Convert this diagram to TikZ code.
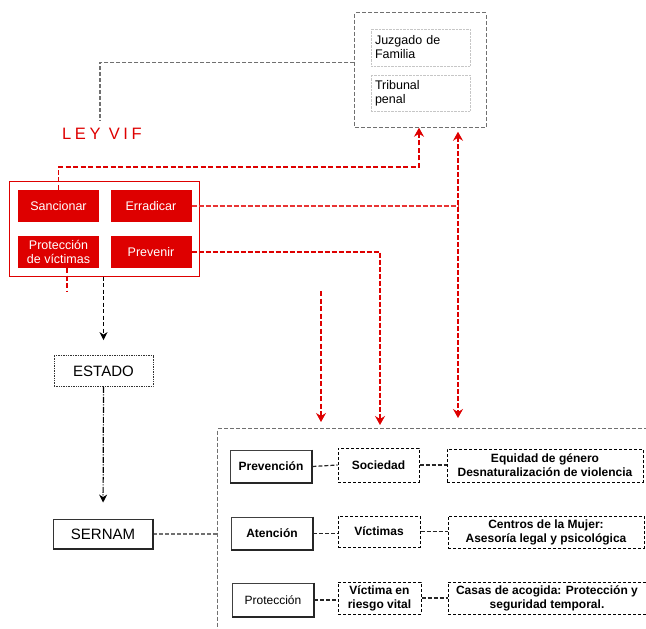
\documentclass[tikz,border=0pt]{standalone}
\usepackage{fontspec}
\setmainfont{Liberation Sans}
\setsansfont{Liberation Sans}
\newfontfamily\leyfont[LetterSpace=22]{Liberation Sans}
\usetikzlibrary{positioning,calc,fit,arrows.meta}
\definecolor{rojo}{RGB}{222,0,0}
\definecolor{rojolinea}{RGB}{232,52,52}
\definecolor{grislinea}{RGB}{112,112,112}

\begin{document}
\begin{tikzpicture}[x=1pt, y=-1pt,
	redbox/.style={fill=rojo, text=white, minimum width=81pt, minimum height=32pt, inner sep=1pt, align=center, font=\fontsize{12.5}{14}\selectfont},
	corte/.style={draw=gray!45, densely dotted, minimum width=99pt, minimum height=37pt, text width=91pt, inner sep=4pt, align=left, font=\fontsize{12.5}{14}\selectfont},
	organo/.style={fill=white, minimum width=99pt, minimum height=31pt, font=\fontsize{15}{17}\selectfont},
	sombra/.style={draw=black!85, line width=2pt},
	tipo/.style={draw=black!75, fill=white, line width=0.8pt, minimum width=82pt, minimum height=33pt, font=\fontsize{12}{14}\selectfont\bfseries},
	detalle/.style={draw, densely dashed, line width=1pt, minimum height=32pt, inner sep=1pt, align=center, font=\fontsize{12}{14}\selectfont\bfseries},
	enlace/.style={draw=black!85, line width=1.2pt, dash pattern=on 4pt off 2pt},
	glinea/.style={draw=grislinea, line width=1.2pt, dash pattern=on 4pt off 2pt},
	rlinea/.style={draw=rojolinea, line width=1.9pt, dash pattern=on 5pt off 2pt},
	rfino/.style={draw=rojo, line width=1.1pt, dash pattern=on 5pt off 2.5pt},
	rarr/.style={-{Stealth[length=9pt, width=10pt, inset=3pt]}, rojo},
	narr/.style={-{Stealth[length=8pt, width=8pt, inset=2.5pt]}, black}
	]
	\clip (0,0) rectangle (646,629);
	
	% ==========================================
	% Tribunales
	% ==========================================
	\node[corte] (juz) at (420.5,47.5) {Juzgado de\\Familia};
	\node[corte, minimum height=36pt] (trib) at (420.5,93) {Tribunal\\penal};
	\node[draw=grislinea, line width=1.1pt, dash pattern=on 4pt off 2pt, fit=(juz)(trib), inner sep=16pt] (cortes) {};
	
	% ==========================================
	% Ley VIF
	% ==========================================
	\node[text=rojo, font=\leyfont\fontsize{16.5}{18}\selectfont] (ley) at (102,134) {LEY VIF};
	\node[redbox] (sanc) at (58.5,206) {Sancionar};
	\node[redbox] (errad) at (151,206) {Erradicar};
	\node[redbox] (protv) at (58.5,252) {Protección\\de víctimas};
	\node[redbox] (prev) at (151,252) {Prevenir};
	\node[draw=rojo, line width=0.8pt, fit=(sanc)(errad)(protv)(prev), inner sep=8pt] (leybox) {};
	
	\draw[glinea] ($(cortes.west)+(0,-7.5)$) -| ($(ley.north)+(-2,-4)$);
	
	% ==========================================
	% Estado y SERNAM
	% ==========================================
	\node[organo, draw=black!80, line width=0.8pt, dash pattern=on 1pt off 0.7pt] (estado) at (103.5,371) {ESTADO};
	\node[organo, draw=black!80, line width=0.8pt, minimum width=100pt, minimum height=30pt] (sernam) at (103,534) {SERNAM};
	
	\draw[narr, line width=1.2pt, dash pattern=on 4pt off 2.5pt, shorten >=15pt] (estado.north |- leybox.south) -- (estado.north);
	\draw[narr, line width=1.2pt, dash pattern=on 6pt off 1.5pt on 1pt off 1.5pt, shorten >=16pt] (estado.south) -- (sernam.north);
	
	% ==========================================
	% Areas de accion
	% ==========================================
	\node[draw=grislinea, line width=1.1pt, dash pattern=on 4pt off 2pt, anchor=north west, minimum width=460pt, minimum height=230pt] (area) at (217,428) {};
	\draw[glinea] (sernam.east) -- (area.west |- sernam.east);
	
	% -- Prevencion --
	\node[tipo] (prevn) at (271,466.5) {Prevención};
	\node[detalle, minimum width=81pt, minimum height=34pt] (soc) at (378.5,465) {Sociedad};
	\node[detalle, minimum width=196pt, minimum height=33pt] (equ) at (545,465.5) {Equidad de género\\Desnaturalización de violencia};
	\draw[enlace] (prevn.east) -- (soc.west);
	\draw[enlace] (soc.east) -- (soc.east -| equ.west);
	
	% -- Atencion --
	\node[tipo] (aten) at (272,533.5) {Atención};
	\node[detalle, minimum width=82pt, minimum height=31pt] (vic) at (379,531.5) {Víctimas};
	\node[detalle, minimum width=196pt] (cen) at (546,532) {Centros de la Mujer:\\Asesoría legal y psicológica};
	\draw[enlace] (aten.east) -- (aten.east -| vic.west);
	\draw[enlace] (vic.east) -- (vic.east -| cen.west);
	
	% -- Proteccion --
	\node[tipo, font=\fontsize{12}{14}\selectfont, minimum height=34pt] (prot) at (273,600) {Protección};
	\node[detalle, minimum width=83pt] (vrv) at (379.5,598) {Víctima en\\riesgo vital};
	\node[detalle, minimum width=198pt] (cas) at (547,598) {Casas de acogida: Protección y\\seguridad temporal.};
	\draw[enlace] (prot.east) -- (prot.east -| vrv.west);
	\draw[enlace] (vrv.east) -- (vrv.east -| cas.west);
	
	% bordes gruesos abajo y a la derecha
	\foreach \n in {prevn,aten,prot,sernam}
		\draw[sombra] (\n.north east) -- (\n.south east) -- (\n.south west);
	
	% ==========================================
	% Flechas rojas
	% ==========================================
	\coordinate (codo) at (419,167);
	\coordinate (ejeE) at (458,206);
	\coordinate (ejeP) at (380,246);
	\coordinate (libre) at (321,291);
	\coordinate (cola) at (67,292);
	
	\draw[rfino, rarr] (sanc.north) |- (codo) -- (codo |- cortes.south);
	\draw[rlinea] (errad.east) -- (ejeE);
	\draw[rlinea, {Stealth[length=9pt, width=10pt, inset=3pt]}-{Stealth[length=9pt, width=10pt, inset=3pt]}, rojo, shorten <=4pt, shorten >=10pt] (ejeE |- cortes.south) -- (ejeE |- area.north);
	\draw[rlinea, rarr, shorten >=3pt] (prev.east) -| (ejeP |- area.north);
	\draw[rfino, rarr, shorten >=6pt] (libre) -- (libre |- area.north);
	\draw[rfino] (protv.south -| cola) -- (cola);
	
\end{tikzpicture}
\end{document}
